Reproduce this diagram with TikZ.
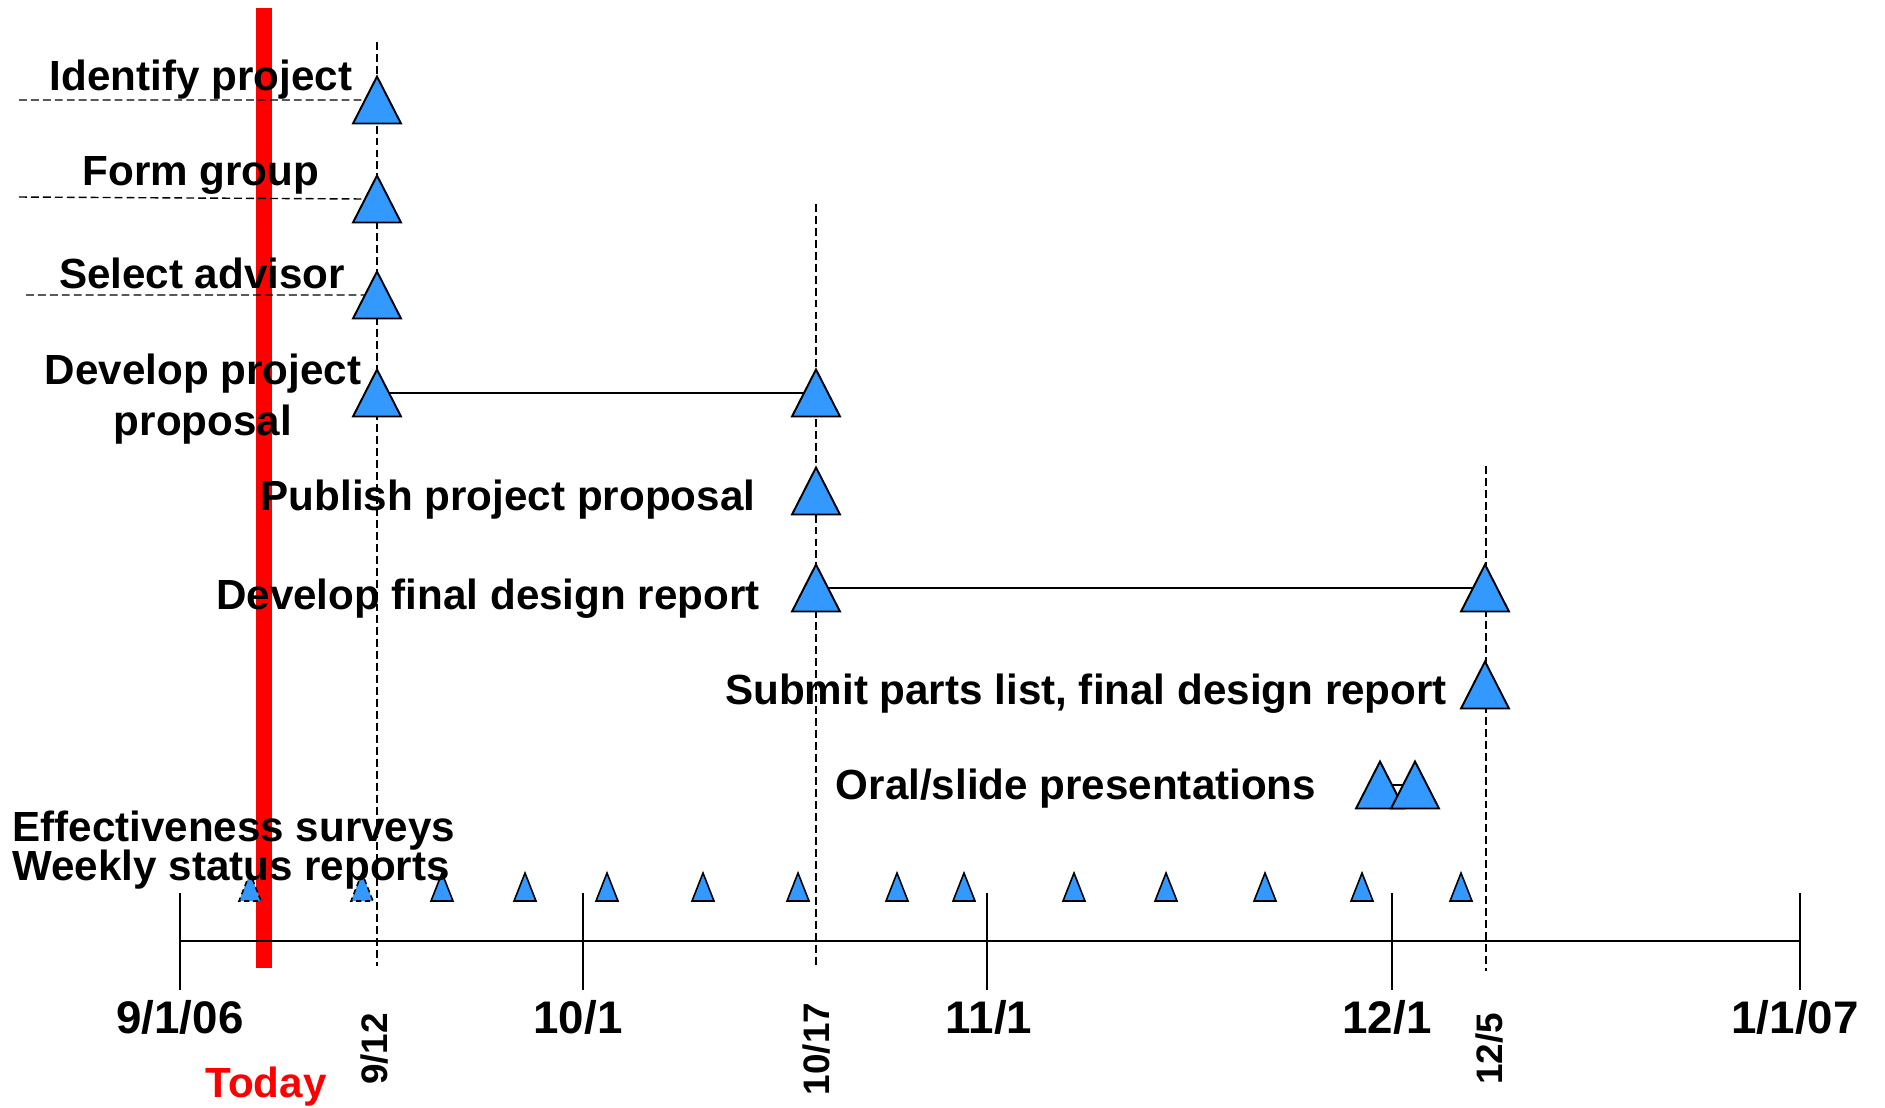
\documentclass[tikz,border=0pt]{standalone}
\usepackage{fontspec}
\setmainfont{Liberation Sans}
\usetikzlibrary{shapes.geometric}

\definecolor{msblue}{RGB}{51,153,255}
\definecolor{todayred}{RGB}{255,0,0}

\tikzset{
  ms/.style={isosceles triangle, isosceles triangle stretches, shape border rotate=90,
    draw, line width=1.1pt, fill=msblue, inner sep=0pt, outer sep=0pt, anchor=apex,
    minimum width=0.96cm, minimum height=0.94cm},
  wk/.style={ms, line width=0.9pt, minimum width=0.44cm, minimum height=0.56cm},
  task/.style={font=\fontsize{24}{29}\selectfont\bfseries, inner sep=0pt},
  monthlbl/.style={font=\fontsize{26}{28}\selectfont\bfseries, inner sep=0pt, anchor=base},
  daylbl/.style={font=\fontsize{21}{23}\selectfont\bfseries, inner sep=0pt, rotate=90},
  guide/.style={dash pattern=on 4.5pt off 2.3pt, line width=0.8pt},
  span/.style={line width=0.85pt},
}

\begin{document}
\begin{tikzpicture}[x=0.02cm, y=-0.02cm]
    \useasboundingbox (0,0) rectangle (1885,1107);

    % Today marker
    \fill[todayred] (256,8) rectangle (272,968);

    % Vertical guides
    \coordinate (g1t) at (377,42);   \coordinate (g1b) at (377,966);
    \coordinate (g2t) at (816,204);  \coordinate (g2b) at (816,966);
    \coordinate (g3t) at (1486,466); \coordinate (g3b) at (1486,971);
    \draw[guide] (g1t) -- (g1b);
    \draw[guide] (g2t) -- (g2b);
    \draw[guide] (g3t) -- (g3b);

    % Time axis
    \coordinate (ax0) at (180,941);
    \coordinate (ax4) at (1800,941);
    \draw[line width=1.1pt] (ax0) -- (ax4);
    \foreach \x in {180,583,987,1392,1800} {
        \draw[line width=0.85pt] (\x,893) -- (\x,990);
    }

    % Lead-in lines
    \coordinate (d1) at (19,100);
    \coordinate (d2) at (19,197);
    \coordinate (d3) at (26,295);

    % Milestones (placed by their apex)
    \node[ms] (m1)  at (377,76.5) {};
    \node[ms] (m2)  at (377,175.5) {};
    \node[ms] (m3)  at (377,271.5) {};
    \node[ms] (m4a) at (377,369.5) {};
    \node[ms] (m4b) at (816,369.5) {};
    \node[ms] (m5)  at (816,467.5) {};
    \node[ms] (m6a) at (816,564.5) {};
    \node[ms] (m6b) at (1485,564.5) {};
    \node[ms] (m7)  at (1485,661.5) {};
    \node[ms] (m8a) at (1380,761.5) {};
    \node[ms] (m8b) at (1415,761.5) {};
    \draw[guide] (d1) -- (m1.left side);
    \draw[guide] (d2) -- (m2.left side);
    \draw[guide] (d3) -- (m3.left side);
    \draw[span] (m4a.right side) -- (m4b.left side);
    \draw[span] (m6a.right side) -- (m6b.left side);
    \draw[span] (m8a.right side) -- (m8b.left side);

    % Weekly reports
    \node[wk, dash pattern=on 3pt off 2pt] (w1) at (250,873) {};
    \node[wk, dash pattern=on 3pt off 2pt] (w2) at (362,873) {};
    \foreach \x [count=\i from 3] in {442,525,607,703,798,897,964,1074,1166,1265,1362,1461} {
        \node[wk] (w\i) at (\x,873) {};
    }

    % Task labels
    \node[task, anchor=base] (t1) at (201,90) {Identify project};
    \node[task, anchor=base] (t2) at (201,185) {Form group};
    \node[task, anchor=base] (t3) at (202,288) {Select advisor};
    \node[task, align=center] (t4) at (203,399) {Develop project\\proposal};
    \node[task, anchor=base] (t5) at (508,510) {Publish project proposal};
    \node[task, anchor=base] (t6) at (488,609) {Develop final design report};
    \node[task, anchor=base] (t7) at (1086,704) {Submit parts list, final design report};
    \node[task, anchor=base] (t8) at (1076,799) {Oral/slide presentations};
    \node[task, anchor=base west] (t9) at (12,841) {Effectiveness surveys};
    \node[task, anchor=base west] (t10) at (12,880) {Weekly status reports};

    % Dates
    \node[monthlbl] (sep) at (180,1033) {9/1/06};
    \node[monthlbl] (oct) at (578,1033) {10/1};
    \node[monthlbl] (nov) at (989,1033) {11/1};
    \node[monthlbl] (dec) at (1387,1033) {12/1};
    \node[monthlbl] (jan) at (1795,1033) {1/1/07};
    \node[daylbl] (dA) at (374,1049) {9/12};
    \node[daylbl] (dB) at (816,1049) {10/17};
    \node[daylbl] (dC) at (1489,1049) {12/5};
    \node[task, anchor=base, text=todayred] (today) at (266,1097) {Today};
\end{tikzpicture}
\end{document}
